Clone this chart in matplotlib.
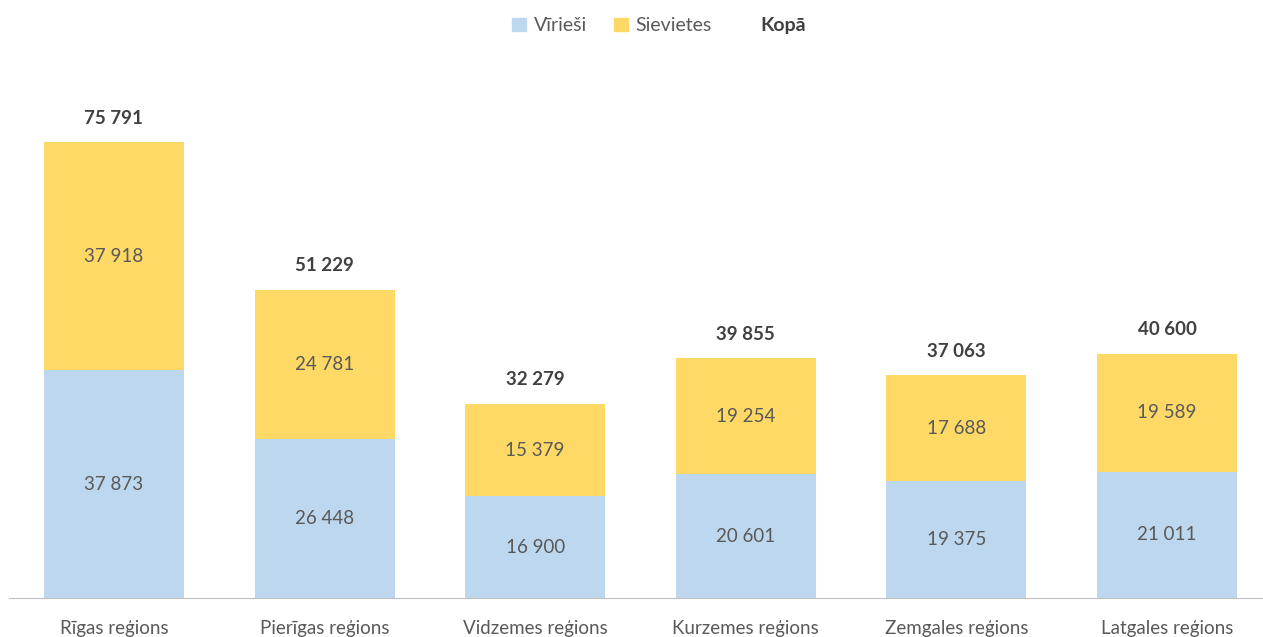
import matplotlib.pyplot as plt
from matplotlib.patches import Patch
from matplotlib.lines import Line2D

regions = ['Rīgas reģions', 'Pierīgas reģions', 'Vidzemes reģions',
           'Kurzemes reģions', 'Zemgales reģions', 'Latgales reģions']
virieshi = [37873, 26448, 16900, 20601, 19375, 21011]
sievietes = [37918, 24781, 15379, 19254, 17688, 19589]
kopa = [75791, 51229, 32279, 39855, 37063, 40600]

blue = '#BDD7EE'
yellow = '#FFD966'
txt = '#595959'

plt.rcParams['font.family'] = ['Lato', 'DejaVu Sans']


def fmt(v):
    return f'{v:,}'.replace(',', ' ')


fig = plt.figure(figsize=(12.63, 6.37), dpi=100)
ax = fig.add_axes([0, 39 / 637, 1, 539 / 637])

x = list(range(len(regions)))
w = 0.665
ax.bar(x, virieshi, w, color=blue)
ax.bar(x, sievietes, w, bottom=virieshi, color=yellow)

for i in x:
    ax.text(i, virieshi[i] / 2, fmt(virieshi[i]), ha='center', va='center',
            fontsize=13.5, color=txt)
    ax.text(i, virieshi[i] + sievietes[i] / 2, fmt(sievietes[i]), ha='center',
            va='center', fontsize=13.5, color=txt)
    ax.annotate(fmt(kopa[i]), (i, kopa[i]), xytext=(0, 11), textcoords='offset points',
                ha='center', va='bottom', fontsize=13.5, fontweight='bold', color='#404040')

ax.set_xlim(-0.541, 5.456)
ax.set_ylim(0, 539 / 0.006017)
ax.set_xticks(x)
ax.set_xticklabels(regions, fontsize=13.5, color=txt)
ax.tick_params(axis='x', length=0, pad=16)
ax.set_yticks([])
for s in ['top', 'right', 'left']:
    ax.spines[s].set_visible(False)
ax.spines['bottom'].set_color('#BFBFBF')
ax.spines['bottom'].set_bounds(-0.5, 5.456)

handles = [Patch(color=blue), Patch(color=yellow), Line2D([], [], color='none')]
leg = fig.legend(handles, ['Vīrieši', 'Sievietes', 'Kopā'], loc='upper center',
                 bbox_to_anchor=(0.522, 1.0), ncol=3, frameon=False, fontsize=14,
                 handlelength=0.7, handleheight=0.7, handletextpad=0.4,
                 columnspacing=1.4, labelcolor=txt)
leg.get_texts()[2].set_fontweight('bold')
leg.get_texts()[2].set_color('#404040')

fig.savefig('out.png', dpi=100)
